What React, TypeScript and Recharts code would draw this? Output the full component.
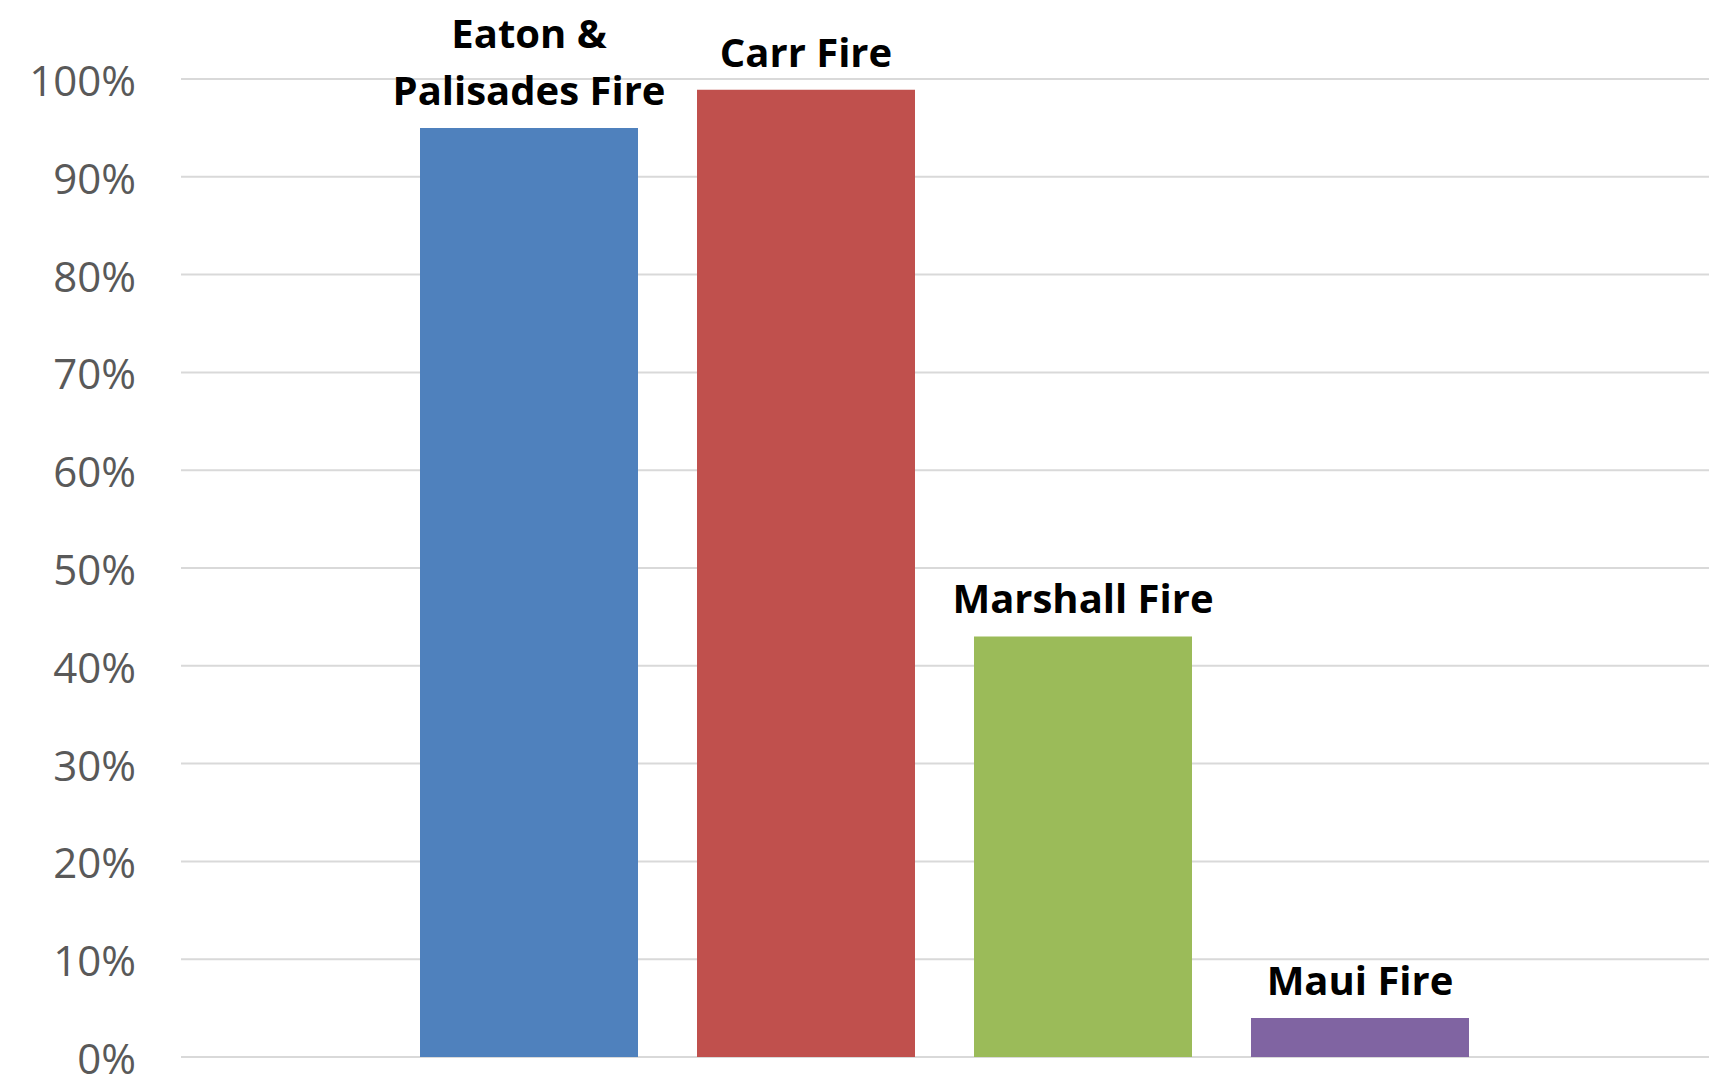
import React from 'react';
import { BarChart, Bar, XAxis, YAxis, CartesianGrid, LabelList } from 'recharts';

// share of structures destroyed, one value per fire
const fireNames = ['Eaton & Palisades Fire', 'Carr Fire', 'Marshall Fire', 'Maui Fire'];
const labelLines = [['Eaton &', 'Palisades Fire'], ['Carr Fire'], ['Marshall Fire'], ['Maui Fire']];
const fireValues = [0.95, 0.989, 0.43, 0.04];
const fireColors = ['#4F81BD', '#C0504D', '#9BBB59', '#8064A2'];
const yTicks = [0, 0.1, 0.2, 0.3, 0.4, 0.5, 0.6, 0.7, 0.8, 0.9, 1];

const keys = fireNames.map((_, i) => `s${i}`);
const data = [
  keys.reduce((row, k, i) => {
    row[k] = fireValues[i];
    return row;
  }, { name: 'fires' } as Record<string, number | string>),
];

const FONT = '"Open Sans", "Noto Sans", sans-serif';

const makeLabel = (lines: string[]) => (props: any) => {
  const { x, y, width } = props;
  const cx = Number(x) + Number(width) / 2;
  const lastBaseline = Number(y) - 23;
  const lineHeight = 57;
  return (
    <text
      textAnchor="middle"
      fontFamily={FONT}
      fontWeight={700}
      fontSize={40}
      fill="#000"
    >
      {lines.map((line, i) => (
        <tspan key={i} x={cx} y={lastBaseline - (lines.length - 1 - i) * lineHeight}>
          {line}
        </tspan>
      ))}
    </text>
  );
};

export default function App() {
  return (
    <div style={{ position: 'fixed', top: 0, left: 0, width: 1718, height: 1075, background: '#fff' }}>
      <BarChart
        width={1718}
        height={1075}
        data={data}
        margin={{ top: 79, right: 9, bottom: 18, left: 0 }}
        barCategoryGap={239}
        barGap={59}
      >
        <CartesianGrid vertical={false} stroke="#d9d9d9" strokeWidth={2} />
        <XAxis dataKey="name" hide />
        <YAxis
          domain={[0, 1]}
          ticks={yTicks}
          interval={0}
          width={181}
          axisLine={false}
          tickLine={false}
          tickSize={0}
          tickMargin={45}
          tickFormatter={(v: number) => `${Math.round(v * 100)}%`}
          tick={{ fill: '#595959', fontSize: 42, fontFamily: FONT, dy: 2 }}
        />
        {keys.map((k, i) => (
          <Bar key={k} dataKey={k} fill={fireColors[i]} isAnimationActive={false}>
            <LabelList dataKey={k} content={makeLabel(labelLines[i])} />
          </Bar>
        ))}
      </BarChart>
    </div>
  );
}
